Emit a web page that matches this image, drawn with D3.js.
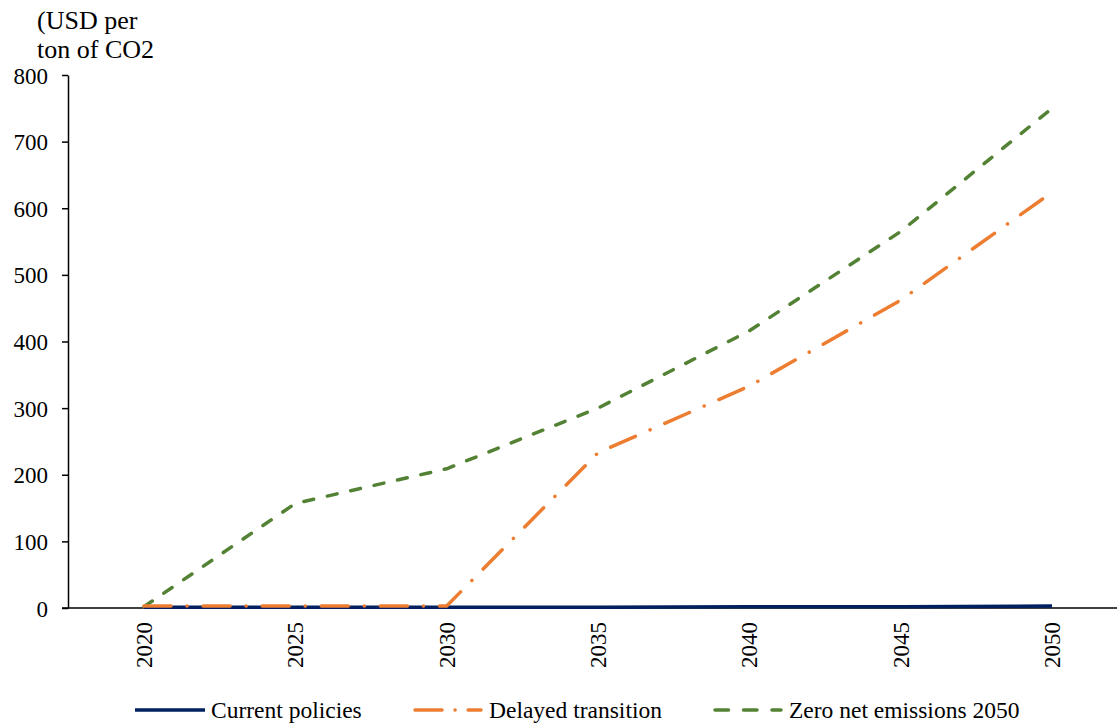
<!DOCTYPE html>
<html>
<head>
<meta charset="utf-8">
<script src="https://cdn.jsdelivr.net/npm/d3@7"></script>
<style>
  body { margin: 0; background: #fff; }
  svg text { font-family: "Liberation Serif", "Times New Roman", serif; fill: #000; }
</style>
</head>
<body>
<div id="chart"></div>
<script>
const years = ["2020", "2025", "2030", "2035", "2040", "2045", "2050"]
const currentPolicies = [1, 1, 1, 1, 2, 2, 3]
const delayedTransition = [3, 3, 3, 233, 333, 462, 624]
const zeroNet = [2, 157, 209, 300, 416, 565, 750]
const yTicks = [0, 100, 200, 300, 400, 500, 600, 700, 800]
const seriesNames = ["Current policies", "Delayed transition", "Zero net emissions 2050"]

const width = 1117, height = 725

const svg = d3.select("#chart").append("svg")
    .attr("width", width)
    .attr("height", height)

const x = d3.scalePoint().domain(years).range([144, 1052])
const y = d3.scaleLinear().domain([0, 800]).range([608, 75])

// y axis
const yAxis = svg.append("g")
    .attr("transform", "translate(68,0)")
    .call(d3.axisLeft(y).tickValues(yTicks).tickSize(6).tickPadding(14).tickSizeOuter(0))
yAxis.select(".domain").attr("stroke", "#000").attr("stroke-width", 1.5)
yAxis.selectAll(".tick line").attr("stroke", "#000").attr("stroke-width", 1.5)
yAxis.selectAll(".tick text").style("font-size", "23px").attr("dy", "0.35em")

// x axis line
svg.append("line")
    .attr("x1", 62).attr("x2", width)
    .attr("y1", y(0)).attr("y2", y(0))
    .attr("stroke", "#000").attr("stroke-width", 1.5)

// x labels rotated
svg.append("g").selectAll("text")
    .data(years)
    .join("text")
    .attr("transform", d => `translate(${x(d) + 8},622) rotate(-90)`)
    .attr("text-anchor", "end")
    .style("font-size", "23px")
    .text(d => d)

// axis title
svg.append("text").attr("x", 37).attr("y", 29).style("font-size", "26px").text("(USD per")
svg.append("text").attr("x", 37).attr("y", 58).style("font-size", "26px").text("ton of CO2")

const styles = [
    { data: currentPolicies, color: "#002060", dash: null, cap: "butt" },
    { data: delayedTransition, color: "#ED7D31", dash: "27,16,0.1,16", cap: "round" },
    { data: zeroNet, color: "#548235", dash: "10,14", cap: "round" }
]

const line = d3.line()
    .x((d, i) => x(years[i]))
    .y(d => y(d))

// draw green first, then navy, then orange on top
const order = [2, 0, 1]
order.forEach(k => {
    const s = styles[k]
    svg.append("path")
        .datum(s.data)
        .attr("d", line)
        .attr("fill", "none")
        .attr("stroke", s.color)
        .attr("stroke-width", 3.5)
        .attr("stroke-linecap", s.cap)
        .attr("stroke-linejoin", "round")
        .attr("stroke-dasharray", s.dash)
})

// legend
const legendX = [135, 413, 713]
const legend = svg.append("g")
seriesNames.forEach((name, i) => {
    const s = styles[i]
    legend.append("line")
        .attr("x1", legendX[i] + (s.cap === "round" ? 2 : 0)).attr("x2", legendX[i] + 70 - (s.cap === "round" ? 2 : 0))
        .attr("y1", 710).attr("y2", 710)
        .attr("stroke", s.color)
        .attr("stroke-width", 3.5)
        .attr("stroke-linecap", s.cap)
        .attr("stroke-dasharray", i === 1 ? "27,13,0.1,13" : i === 2 ? "13.5,15" : null)
    legend.append("text")
        .attr("x", legendX[i] + 76)
        .attr("y", 718)
        .style("font-size", "23.5px")
        .text(name)
})
</script>
</body>
</html>
